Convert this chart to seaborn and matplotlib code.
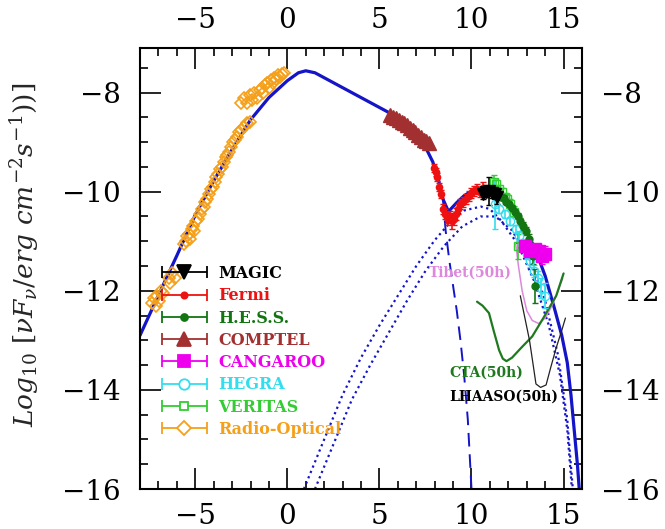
import numpy as np
import matplotlib
matplotlib.use("Agg")
import matplotlib.pyplot as plt
import seaborn as sns
from matplotlib.container import ErrorbarContainer
from matplotlib.legend_handler import HandlerErrorbar
from matplotlib.ticker import MultipleLocator

# ---------------- model curves ----------------
total_x = [-8.0, -7.0, -6.0, -5.0, -4.0, -3.0, -2.0, -1.0, 0.0, 0.6, 1.0, 1.5, 2.5, 3.5, 4.5, 5.5,
           6.5, 7.0, 7.5, 7.9, 8.2, 8.45, 8.75, 9.2, 9.6, 10.0, 10.5, 11.0, 11.5, 12.0, 12.5,
           13.0, 13.5, 14.0, 14.5, 14.9, 15.2, 15.4, 15.6, 15.75, 15.85]
total_y = [-12.9, -12.09, -11.29, -10.47, -9.78, -9.15, -8.55, -8.1, -7.76, -7.6, -7.56, -7.6,
           -7.8, -8.0, -8.2, -8.4, -8.68, -8.88, -9.1, -9.4, -9.75, -10.15, -10.4, -10.22,
           -10.08, -9.99, -9.94, -9.98, -10.07, -10.22, -10.45, -10.8, -11.2, -11.7, -12.35,
           -12.9, -13.45, -14.1, -14.9, -15.5, -16.0]
sync_x = [8.45, 8.6, 8.8, 9.0, 9.2, 9.4, 9.6, 9.8, 10.0]
sync_y = [-10.15, -10.8, -11.4, -11.9, -12.4, -13.0, -13.7, -14.6, -16.0]
ic1_x = [0.9, 2.0, 3.0, 4.0, 5.0, 6.0, 7.0, 8.0, 9.0, 9.6, 10.5, 11.0, 11.6, 12.5, 13.4, 14.2,
         14.8, 15.2, 15.45]
ic1_y = [-16.0, -15.0, -14.1, -13.35, -12.7, -12.1, -11.5, -10.98, -10.55, -10.38, -10.3,
         -10.35, -10.58, -11.05, -11.8, -12.7, -13.7, -14.8, -16.0]
ic2_x = [1.5, 2.5, 3.5, 4.5, 5.5, 6.5, 7.5, 8.5, 9.5, 10.5, 11.3, 12.2, 13.2, 14.0, 14.7, 15.2,
         15.5]
ic2_y = [-16.0, -15.1, -14.2, -13.5, -12.85, -12.2, -11.6, -11.1, -10.7, -10.5, -10.5, -10.78,
         -11.4, -12.2, -13.3, -14.6, -16.0]

# sensitivity curves
tibet_x = [12.4, 12.55, 12.75, 13.0, 13.3, 13.65, 14.0, 14.3, 14.6, 14.95]
tibet_y = [-11.05, -11.5, -12.0, -12.4, -12.6, -12.66, -12.55, -12.35, -12.1, -11.75]
cta_x = [10.3, 10.6, 10.95, 11.2, 11.5, 11.7, 11.9, 12.2, 12.7, 13.3, 13.9, 14.6, 15.0]
cta_y = [-12.22, -12.3, -12.45, -12.8, -13.2, -13.37, -13.42, -13.35, -13.15, -12.92, -12.55,
         -12.1, -11.65]
lhaaso_x = [12.65, 12.9, 13.15, 13.35, 13.5, 13.75, 14.05, 14.3, 14.6, 14.9, 15.1]
lhaaso_y = [-12.1, -12.55, -13.0, -13.5, -13.88, -13.95, -13.9, -13.55, -13.15, -12.8, -12.55]

# ---------------- data points ----------------
radio_x = [-7.35, -7.25, -7.15, -7.05, -6.95, -6.85, -6.75, -6.45, -6.35, -6.25, -6.1,
           -5.6, -5.5, -5.45, -5.35, -5.3, -5.2, -5.1, -5.05, -4.95, -4.85, -4.75, -4.65, -4.55,
           -4.45, -4.35, -4.25, -4.15, -4.05, -3.95, -3.85, -3.75, -3.65, -3.55, -3.45, -3.35,
           -3.25, -3.15, -3.05, -2.95, -2.85, -2.75, -2.65, -2.5, -2.35, -2.2, -2.05,
           -2.5, -2.35, -2.2, -2.05, -1.9, -1.8, -1.65, -1.5, -1.4, -1.3, -1.2, -1.1, -1.0,
           -0.9, -0.8, -0.7, -0.6, -0.5, -0.4, -0.3, -0.2]
radio_y = [-12.25, -12.15, -12.3, -12.1, -12.2, -12.0, -12.05, -11.75, -11.85, -11.65, -11.75,
           -11.05, -11.0, -10.9, -10.85, -10.95, -10.75, -10.7, -10.8, -10.6, -10.55, -10.45,
           -10.35, -10.3, -10.2, -10.15, -10.05, -9.95, -9.9, -9.8, -9.7, -9.65, -9.55, -9.5,
           -9.4, -9.3, -9.25, -9.2, -9.1, -9.0, -8.95, -8.9, -8.8, -8.75, -8.7, -8.62, -8.6,
           -8.2, -8.1, -8.2, -8.05, -8.15, -8.0, -8.1, -7.95, -7.9, -8.0, -7.85, -7.8, -7.9,
           -7.75, -7.8, -7.7, -7.72, -7.65, -7.68, -7.62, -7.6]
comptel_x = [5.6, 5.75, 5.9, 6.05, 6.2, 6.35, 6.5, 6.65, 6.8, 6.95, 7.1, 7.25, 7.4, 7.55, 7.7]
comptel_y = [-8.45, -8.5, -8.52, -8.56, -8.6, -8.62, -8.66, -8.72, -8.75, -8.8, -8.86, -8.9,
             -8.95, -8.98, -9.02]
fermi_x = [7.95, 8.05, 8.15, 8.25, 8.35, 8.45, 8.55, 8.65, 8.75, 8.85, 8.95, 9.05, 9.15, 9.25,
           9.4, 9.55, 9.7, 9.85, 10.0, 10.15, 10.3, 10.45, 10.6, 10.75]
fermi_y = [-9.52, -9.6, -9.7, -9.9, -10.05, -10.35, -10.45, -10.52, -10.55, -10.5, -10.6,
           -10.55, -10.45, -10.35, -10.25, -10.2, -10.15, -10.08, -10.02, -9.98, -9.95, -10.0,
           -9.93, -9.98]
fermi_err = [0.08, 0.08, 0.08, 0.08, 0.08, 0.1, 0.1, 0.12, 0.12, 0.12, 0.15, 0.12, 0.12, 0.1,
             0.1, 0.1, 0.1, 0.1, 0.1, 0.1, 0.1, 0.1, 0.12, 0.12]
magic_x = [10.6, 10.8, 10.95, 11.1, 11.25, 11.4]
magic_y = [-10.05, -10.0, -9.98, -10.02, -10.05, -10.1]
magic_err = [0.1, 0.1, 0.28, 0.1, 0.1, 0.15]
hess_x = [11.3, 11.45, 11.6, 11.75, 11.9, 12.05, 12.2, 12.35, 12.5, 12.65, 12.8, 12.95, 13.1,
          13.25, 13.35, 13.45]
hess_y = [-9.98, -10.05, -10.1, -10.12, -10.2, -10.25, -10.32, -10.4, -10.5, -10.6, -10.7,
          -10.8, -10.95, -11.15, -11.3, -11.9]
hess_err = [0.05, 0.05, 0.05, 0.05, 0.05, 0.05, 0.05, 0.06, 0.06, 0.07, 0.08, 0.08, 0.1, 0.12,
            0.15, 0.35]
veritas_x = [11.2, 11.35, 11.5, 11.65, 11.8, 11.95, 12.1, 12.3, 12.55]
veritas_y = [-9.8, -9.85, -9.95, -10.0, -10.1, -10.15, -10.25, -10.4, -11.1]
veritas_err = [0.14, 0.08, 0.08, 0.08, 0.08, 0.1, 0.1, 0.12, 0.25]
cangaroo_x = [12.9, 13.2, 13.45, 13.65, 13.85, 14.0]
cangaroo_y = [-11.1, -11.2, -11.15, -11.2, -11.3, -11.25]
cangaroo_err = [0.08, 0.1, 0.1, 0.12, 0.15, 0.15]
hegra_x = [11.25, 11.5, 11.8, 12.1, 12.4, 12.6, 12.8, 13.0, 13.2, 13.4, 13.6, 13.8, 14.0]
hegra_y = [-10.25, -10.35, -10.45, -10.6, -10.75, -10.9, -11.05, -11.25, -11.4, -11.6, -11.75,
           -11.95, -12.1]
hegra_err = [0.5, 0.08, 0.08, 0.08, 0.08, 0.1, 0.1, 0.1, 0.12, 0.12, 0.15, 0.2, 0.25]

legend_labels = ["MAGIC", "Fermi", "H.E.S.S.", "COMPTEL", "CANGAROO", "HEGRA", "VERITAS",
                 "Radio-Optical"]

# ---------------- style ----------------
sns.set_style("ticks")
plt.rcParams["font.family"] = ["DejaVu Serif"]
plt.rcParams["mathtext.fontset"] = "dejavuserif"

BLUE = "#1414c8"
C_MAGIC = "black"
C_FERMI = "#ee1111"
C_HESS = "#127512"
C_COMPTEL = "#a33030"
C_CANG = "#ee00ee"
C_HEGRA = "#33ddee"
C_VER = "#33cc33"
C_RADIO = "#f5a01a"

fig = plt.figure(figsize=(6.65, 5.29), dpi=100)
ax = fig.add_axes([140 / 665, 1 - 489 / 529, 442 / 665, 441 / 529])

# model curves
sns.lineplot(x=total_x, y=total_y, sort=False, estimator=None, color=BLUE, lw=2.3, ax=ax)
sns.lineplot(x=sync_x, y=sync_y, sort=False, estimator=None, color=BLUE, lw=1.4,
             ax=ax, linestyle=(0, (7, 4)))
sns.lineplot(x=ic1_x, y=ic1_y, sort=False, estimator=None, color=BLUE, lw=1.6,
             linestyle=(0, (1, 1.6)), ax=ax)
sns.lineplot(x=ic2_x, y=ic2_y, sort=False, estimator=None, color=BLUE, lw=1.6,
             linestyle=(0, (1, 1.6)), ax=ax)

sns.lineplot(x=tibet_x, y=tibet_y, sort=False, estimator=None, color="#dd88dd", lw=1.1, ax=ax)
sns.lineplot(x=cta_x, y=cta_y, sort=False, estimator=None, color="#1f7a1f", lw=1.6, ax=ax)
sns.lineplot(x=lhaaso_x, y=lhaaso_y, sort=False, estimator=None, color="#222222", lw=0.9, ax=ax)

tkw = dict(fontsize=10, fontweight="bold", va="center", ha="left", family="DejaVu Serif")
ax.text(7.7, -11.64, "Tibet(50h)", color="#dd88dd", **tkw)
ax.text(8.78, -13.66, "CTA(50h)", color="#1f7a1f", **tkw)
ax.text(8.78, -14.13, "LHAASO(50h)", color="black", **tkw)

# data points
ax.plot(radio_x, radio_y, ls="none", marker="D", ms=6.5, mfc="none", mec=C_RADIO, mew=1.2)
ax.plot(comptel_x, comptel_y, ls="none", marker="^", ms=10, color=C_COMPTEL)
ax.errorbar(fermi_x, fermi_y, yerr=fermi_err, fmt="o", ms=4.5, color=C_FERMI, capsize=2,
            elinewidth=1.2)
ax.errorbar(veritas_x, veritas_y, yerr=veritas_err, fmt="s", ms=6, mfc="none", color=C_VER,
            capsize=2, elinewidth=1.2)
ax.errorbar(hegra_x, hegra_y, yerr=hegra_err, fmt="o", ms=6, mfc="none", color=C_HEGRA,
            capsize=2, elinewidth=1.2)
ax.errorbar(hess_x, hess_y, yerr=hess_err, fmt="o", ms=5, color=C_HESS, capsize=2,
            elinewidth=1.2)
ax.errorbar(cangaroo_x, cangaroo_y, yerr=cangaroo_err, fmt="s", ms=8, color=C_CANG, capsize=2,
            elinewidth=1.2)
ax.errorbar(magic_x, magic_y, yerr=magic_err, fmt="v", ms=9, color=C_MAGIC, capsize=2,
            elinewidth=1.2)

# legend handles (horizontal error bars with caps)
specs = [("v", C_MAGIC, C_MAGIC, 10), ("o", C_FERMI, C_FERMI, 4.5), ("o", C_HESS, C_HESS, 5),
         ("^", C_COMPTEL, C_COMPTEL, 10), ("s", C_CANG, C_CANG, 9), ("o", C_HEGRA, "white", 7.5),
         ("s", C_VER, "white", 6), ("D", C_RADIO, "white", 7)]
handles = []
for (m, c, fc, ms) in specs:
    h = ax.errorbar([np.nan], [np.nan], xerr=[1.0], fmt=m, color=c, mfc=fc, ms=ms, capsize=4,
                    elinewidth=1.3, mew=1.3)
    handles.append(h)
leg = ax.legend(handles, legend_labels, loc="upper left", bbox_to_anchor=(0.05, 0.508),
                frameon=False, handlelength=2.8, handletextpad=0.7, labelspacing=0.33,
                borderpad=0, borderaxespad=0,
                prop={"family": "DejaVu Serif", "weight": "bold", "size": 11.5},
                labelcolor=[C_MAGIC, C_FERMI, C_HESS, C_COMPTEL, C_CANG, C_HEGRA, C_VER, C_RADIO],
                handler_map={ErrorbarContainer: HandlerErrorbar(xerr_size=1.4)})

# axes
ax.set_xlim(-8, 16)
ax.set_ylim(-16, -7.1)
ax.xaxis.set_major_locator(MultipleLocator(5))
ax.xaxis.set_minor_locator(MultipleLocator(1))
ax.yaxis.set_major_locator(MultipleLocator(2))
ax.yaxis.set_minor_locator(MultipleLocator(0.5))
ax.tick_params(which="both", direction="in", top=True, right=True, labeltop=True,
               labelright=True, labelsize=20, width=1.2, colors="black")
ax.tick_params(which="major", length=15)
ax.tick_params(which="minor", length=6)
ax.tick_params(axis="x", pad=10)
ax.tick_params(axis="y", pad=14)
for s in ax.spines.values():
    s.set_linewidth(1.5)
    s.set_color("black")

ax.set_ylabel(r"$Log_{10}\ [\nu F_{\nu}/erg\ cm^{-2}s^{-1}))]$", fontsize=19)
ax.yaxis.set_label_coords(-0.225, 0.53)
ax.set_xlabel("")

fig.savefig("out.png", dpi=100)
